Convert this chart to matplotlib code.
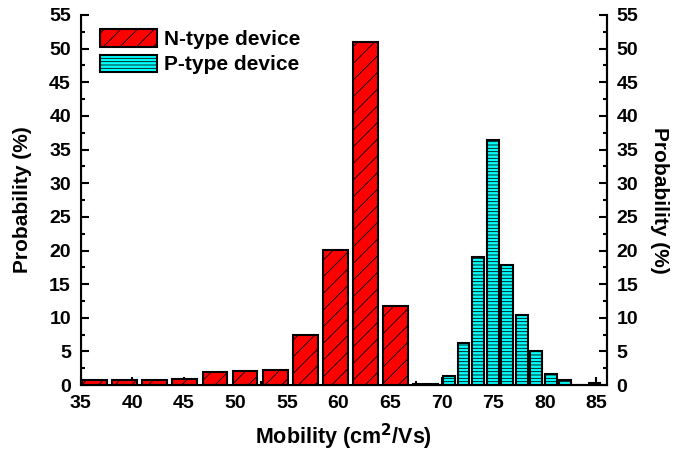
import numpy as np
import matplotlib
matplotlib.use("Agg")
import matplotlib.pyplot as plt
from matplotlib.ticker import MultipleLocator

plt.rcParams['font.family'] = ['Liberation Sans', 'DejaVu Sans']
plt.rcParams['font.weight'] = 'bold'
plt.rcParams['hatch.linewidth'] = 0.6

# N-type device histogram (bin centres, probability %)
n_centers = [36.34, 39.26, 42.18, 45.10, 48.02, 50.94, 53.86, 56.78, 59.70, 62.62, 65.54, 68.46]
n_prob = [0.7, 0.8, 0.8, 0.9, 1.9, 2.1, 2.2, 7.5, 20.1, 51.0, 11.8, 0.2]
# P-type device histogram
p_centers = [70.71, 72.12, 73.53, 74.94, 76.35, 77.76, 79.17, 80.58, 81.99, 83.40, 84.81]
p_prob = [1.3, 6.3, 19.1, 36.4, 17.9, 10.4, 5.0, 1.6, 0.8, 0.0, 0.25]

fig = plt.figure(figsize=(6.95, 4.51), dpi=100)
ax = fig.add_axes([0.116, 0.146, 0.757, 0.821])

ax.bar(n_centers, n_prob, width=2.4, color='#ff0000', edgecolor='black',
       linewidth=1.5, hatch='//', label='N-type device', zorder=2)
ax.bar(p_centers, p_prob, width=1.15, color='#00ffff', edgecolor='black',
       linewidth=1.5, hatch='-----', label='P-type device', zorder=2)

ax.set_xlim(35, 86)
ax.set_ylim(0, 55)
ax.xaxis.set_major_locator(MultipleLocator(5))
ax.xaxis.set_minor_locator(MultipleLocator(2.5))
ax.yaxis.set_major_locator(MultipleLocator(5))
ax.yaxis.set_minor_locator(MultipleLocator(2.5))
ax.tick_params(which='both', direction='in', width=1.5, labelsize=14, pad=7)
ax.tick_params(which='major', length=6)
ax.tick_params(which='minor', length=3)
ax.spines['top'].set_visible(False)
for s in ['left', 'bottom', 'right']:
    ax.spines[s].set_linewidth(1.5)

ax2 = ax.twinx()
ax2.set_ylim(0, 55)
ax2.yaxis.set_major_locator(MultipleLocator(5))
ax2.yaxis.set_minor_locator(MultipleLocator(2.5))
ax2.tick_params(which='both', direction='in', width=1.5, labelsize=14, pad=7)
ax2.tick_params(which='major', length=6)
ax2.tick_params(which='minor', length=3)
ax2.spines['top'].set_visible(False)
ax2.spines['right'].set_linewidth(1.5)

ax.set_xlabel('Mobility (cm$^\\mathbf{2}$/Vs)', fontsize=15.5, fontweight='bold', labelpad=7)
ax.set_ylabel('Probability (%)', fontsize=15, fontweight='bold', labelpad=12)
ax2.set_ylabel('Probability (%)', fontsize=15, fontweight='bold', rotation=270, labelpad=22)

ax.legend(loc='upper left', bbox_to_anchor=(0.01, 1.0), frameon=False, fontsize=15,
          handlelength=2.7, handleheight=0.9, labelspacing=0.25, handletextpad=0.35,
          borderaxespad=0.3)

fig.savefig('out.png', dpi=100)
